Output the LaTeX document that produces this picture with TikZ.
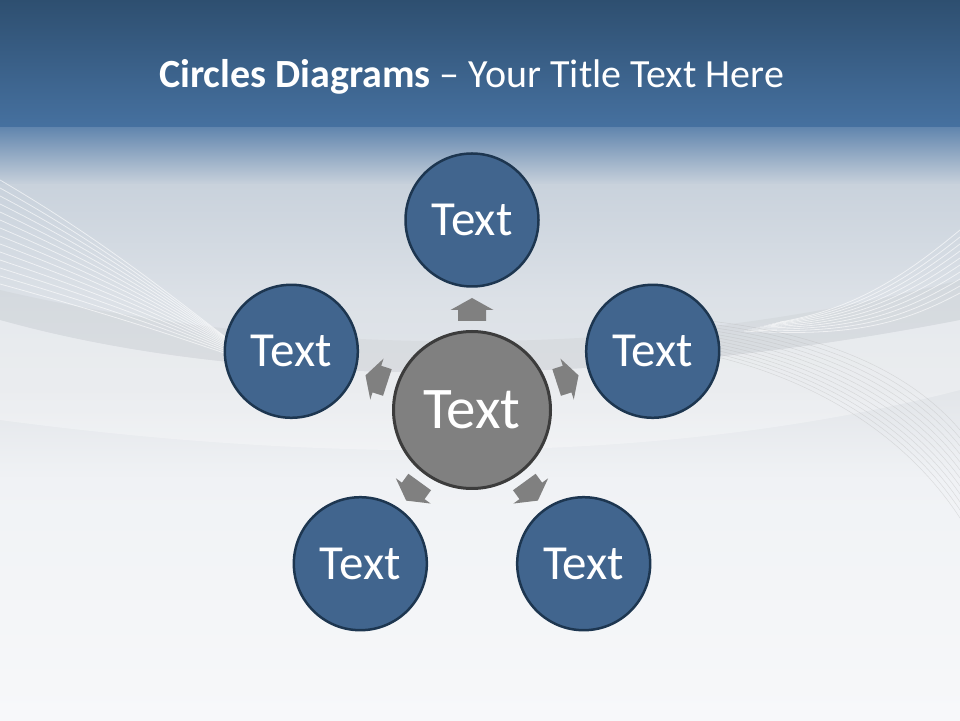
\documentclass[tikz,border=0pt]{standalone}
\usepackage{fontspec}
\setmainfont{Carlito}
\usetikzlibrary{calc}
\definecolor{bandtop}{HTML}{2E4F70}
\definecolor{bandbot}{HTML}{4671A0}
\definecolor{fadeA}{HTML}{6286AE}
\definecolor{fadeB}{HTML}{C9D2DC}
\definecolor{bgA}{HTML}{DCE1E7}
\definecolor{bgB}{HTML}{E2E5E9}
\definecolor{bgC}{HTML}{F0F2F5}
\definecolor{bgD}{HTML}{F7F8FA}
\definecolor{outerfill}{HTML}{41658E}
\definecolor{outerline}{HTML}{1D3650}
\definecolor{hubfill}{HTML}{808080}
\definecolor{hubline}{HTML}{3C3C3C}
\definecolor{arrowgray}{HTML}{808080}
\tikzset{
  outer/.style={circle, fill=outerfill, draw=outerline, line width=2.5pt,
    minimum size=133pt, inner sep=0pt, text=white, font=\fontsize{49}{49}\selectfont},
  hub/.style={circle, fill=hubfill, draw=hubline, line width=3pt,
    minimum size=157pt, inner sep=0pt, text=white, font=\fontsize{59}{59}\selectfont},
  blockarrow/.style={fill=arrowgray},
  wave/.style={draw=white, line width=0.8pt, opacity=0.6},
  wavegray/.style={draw=gray!60, line width=0.5pt, opacity=0.35}
}
\begin{document}
\begin{tikzpicture}[x=1pt,y=1pt]
\useasboundingbox (0,0) rectangle (960,720);
% background bands (y up; image y = 720 - y)
\shade[top color=bandtop, bottom color=bandbot] (0,720) rectangle (960,592);
\shade[top color=fadeA, bottom color=fadeB] (0,592.5) rectangle (960,535);
\shade[top color=fadeB, bottom color=bgA] (0,535.5) rectangle (960,420);
\shade[top color=bgA, bottom color=bgB] (0,420.5) rectangle (960,330);
\shade[top color=bgB, bottom color=bgC] (0,330.5) rectangle (960,240);
\shade[top color=bgC, bottom color=bgD] (0,240.5) rectangle (960,0);
% soft swoosh band
\fill[white, opacity=0.3] (0,400) .. controls (250,330) and (600,330) .. (960,400)
   -- (960,330) .. controls (650,250) and (300,260) .. (0,300) -- cycle;
\fill[gray, opacity=0.07] (0,430) .. controls (300,360) and (650,360) .. (960,440)
   -- (960,400) .. controls (600,330) and (250,330) .. (0,400) -- cycle;
% left wave bundle
\foreach \i in {0,...,13} {
  \draw[wave] (0,{540-\i*8}) .. controls ({120+\i*3},{470-\i*6}) and (200,{400-\i*2}) .. ({250+\i*3},{365-\i*1.5});
}
% right wave bundles
\foreach \i in {0,...,9} {
  \draw[wave] (960,{490-\i*7}) .. controls (900,{440-\i*5}) and (850,{410-\i*3}) .. ({780-\i*4},{398-\i*1});
}
\foreach \i in {0,...,11} {
  \draw[wavegray] (700,{400-\i*3}) .. controls (800,{390-\i*4}) and (900,{360-\i*6}) .. (960,{290-\i*8});
}
% title
\node[anchor=base west, text=white, inner sep=0pt, font=\fontsize{40}{40}\selectfont]
  (title) at (159,632) {\textbf{Circles Diagrams} – Your Title Text Here};
% circles
\coordinate (C) at (472,310);
\node[hub] (hub) at (C) {Text};
\node[outer] (top) at ($(C)+(90:190)$) {Text};
\node[outer] (right) at ($(C)+(18:190)$) {Text};
\node[outer] (left) at ($(C)+(162:190)$) {Text};
\node[outer] (bl) at ($(C)+(234:190)$) {Text};
\node[outer] (br) at ($(C)+(306:190)$) {Text};
% block arrows from hub toward each outer circle
\foreach \a in {90,18,162,234,306} {
  \begin{scope}[shift={(hub.center)}, rotate=\a]
    \fill[blockarrow] (89,-14) -- (100,-14) -- (100,-21.5) -- (112,0)
      -- (100,21.5) -- (100,14) -- (89,14) -- cycle;
  \end{scope}
}
\end{tikzpicture}
\end{document}
